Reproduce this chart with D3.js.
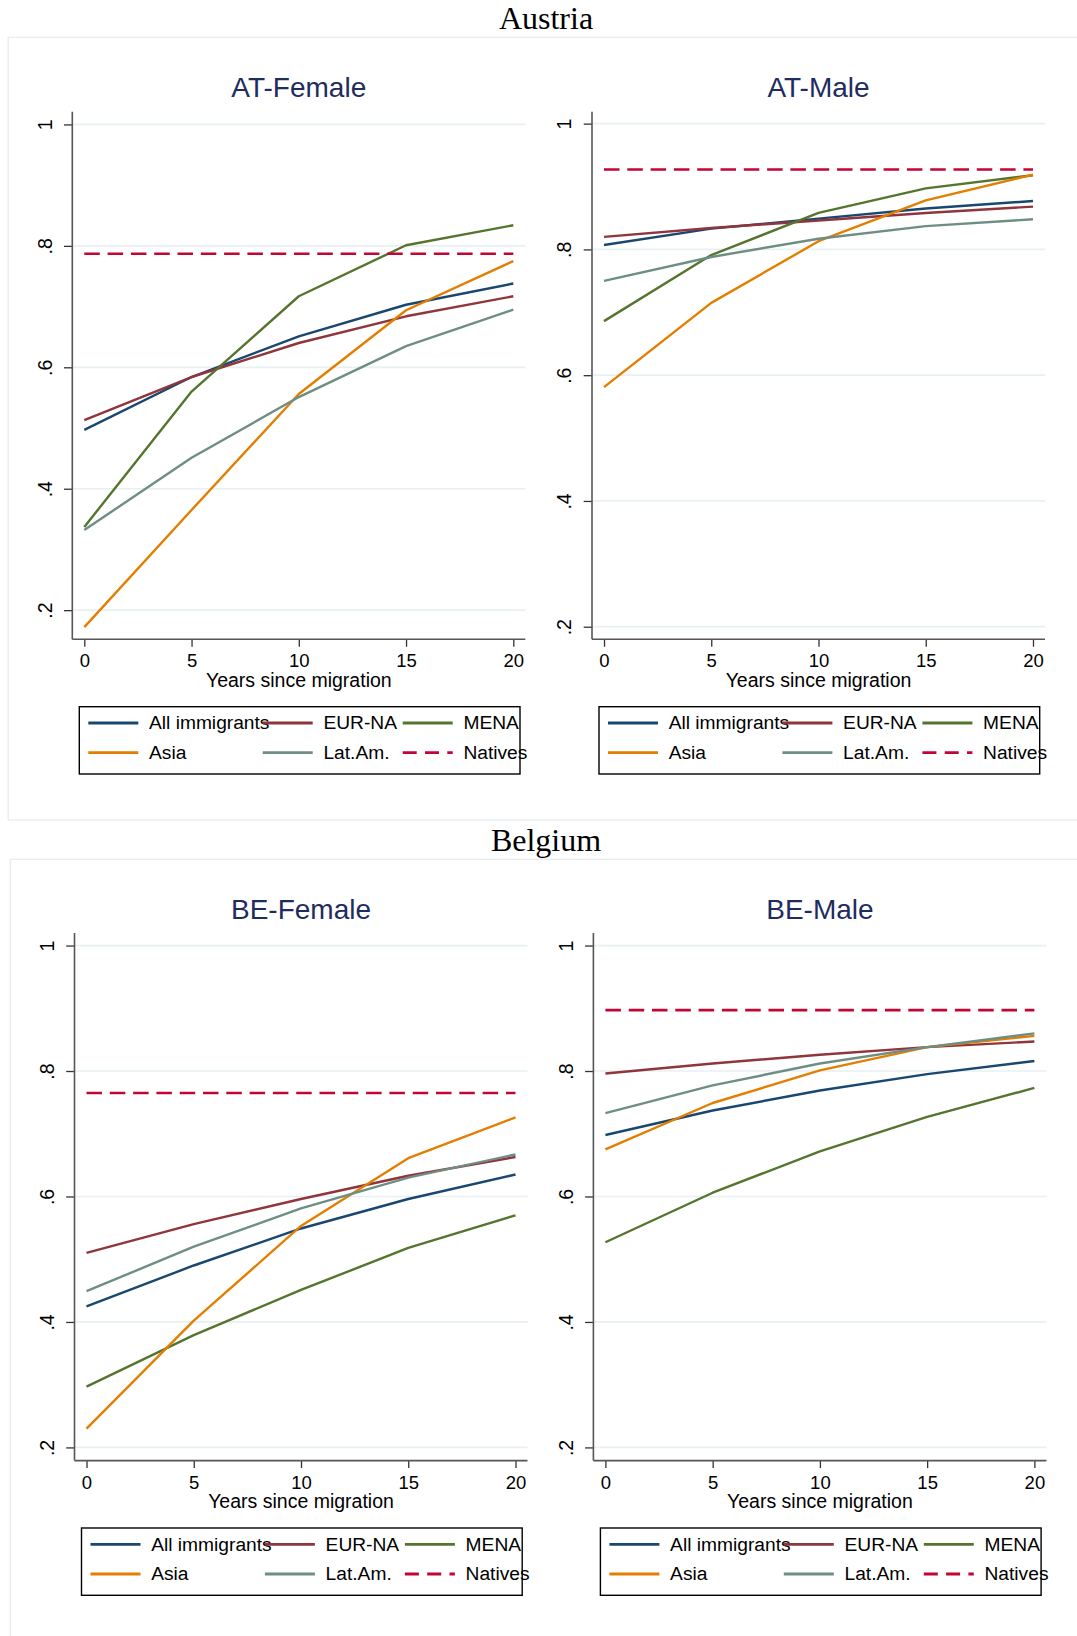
<!doctype html>
<html>
<head>
<meta charset="utf-8">
<title>Employment by years since migration</title>
<script src="https://d3js.org/d3.v7.min.js"></script>
<style>
body { margin: 0; background: white; }
svg { display: block; }
</style>
</head>
<body>
<div id="chart"></div>
<script>
// data (share employed by years since migration)
var years = [0, 5, 10, 15, 20];
var groups = ["All immigrants", "EUR-NA", "MENA", "Asia", "Lat.Am.", "Natives"];
var colors = ["#1a476f", "#90353b", "#55752f", "#e37e00", "#6e8e84", "#c10534"];

// rows: All immigrants, EUR-NA, MENA, Asia, Lat.Am.
var atFemale = [
  [0.497, 0.584, 0.651, 0.703, 0.738],
  [0.513, 0.584, 0.640, 0.684, 0.717],
  [0.337, 0.560, 0.717, 0.801, 0.834],
  [0.172, 0.365, 0.556, 0.694, 0.775],
  [0.332, 0.451, 0.551, 0.635, 0.695]
];
var atMale = [
  [0.807, 0.833, 0.849, 0.865, 0.877],
  [0.820, 0.834, 0.846, 0.858, 0.868],
  [0.686, 0.791, 0.858, 0.897, 0.918],
  [0.581, 0.715, 0.813, 0.878, 0.919],
  [0.750, 0.788, 0.817, 0.837, 0.848]
];
var beFemale = [
  [0.425, 0.490, 0.549, 0.596, 0.635],
  [0.510, 0.556, 0.596, 0.633, 0.663],
  [0.297, 0.379, 0.451, 0.518, 0.570],
  [0.230, 0.402, 0.553, 0.661, 0.726],
  [0.449, 0.520, 0.581, 0.630, 0.667]
];
var beMale = [
  [0.698, 0.737, 0.769, 0.795, 0.816],
  [0.796, 0.812, 0.826, 0.838, 0.847],
  [0.527, 0.606, 0.672, 0.727, 0.773],
  [0.675, 0.749, 0.801, 0.838, 0.856],
  [0.733, 0.777, 0.812, 0.838, 0.860]
];
var natives = [0.787, 0.927, 0.765, 0.897];

var panelTitles = ["AT-Female", "AT-Male", "BE-Female", "BE-Male"];
var countries = ["Austria", "Belgium"];
var yDomains = [[0.152, 1.021], [0.180, 1.019], [0.179, 1.020], [0.179, 1.020]];
var xDomain = [-0.56, 20.56];
var yTicks = [0.2, 0.4, 0.6, 0.8, 1];
var yTickLabels = [".2", ".4", ".6", ".8", "1"];
var xTicks = [0, 5, 10, 15, 20];

var panelData = [atFemale, atMale, beFemale, beMale];

var width = 1077, height = 1636;
var plotW = 453, plotH = 527.6;
// top-left of each plot region
var origins = [[72.3, 111.7], [592, 111.7], [74.5, 933], [593.4, 933]];

var svg = d3.select("#chart")
  .append("svg")
  .attr("width", width)
  .attr("height", height)
  .style("font-family", "'Liberation Sans', Arial, sans-serif");

svg.append("rect")
  .attr("width", width).attr("height", height)
  .attr("fill", "white");

// country frames and titles
var frames = [[8.2, 37.3, 820], [10.3, 859.3, 1700]];
frames.forEach(function(f, i) {
  svg.append("rect")
    .attr("x", f[0]).attr("y", f[1])
    .attr("width", width + 20 - f[0])
    .attr("height", f[2] - f[1])
    .attr("fill", "none")
    .attr("stroke", "#e4ecef")
    .attr("stroke-width", 1.2);
  svg.append("text")
    .attr("x", 546)
    .attr("y", f[1] - 8)
    .attr("text-anchor", "middle")
    .attr("font-family", "'Liberation Serif', 'Times New Roman', serif")
    .attr("font-size", "32px")
    .attr("fill", "black")
    .text(countries[i]);
});

function drawPanel(idx) {
  var data = panelData[idx];
  var g = svg.append("g")
    .attr("transform", "translate(" + origins[idx][0] + "," + origins[idx][1] + ")");

  var x = d3.scaleLinear().domain(xDomain).range([0, plotW]);
  var y = d3.scaleLinear().domain(yDomains[idx]).range([plotH, 0]);

  // subtitle
  g.append("text")
    .attr("x", plotW / 2)
    .attr("y", -14.4)
    .attr("text-anchor", "middle")
    .attr("font-size", "28px")
    .attr("fill", "#1f2c5e")
    .text(panelTitles[idx]);

  // gridlines
  g.selectAll("line.grid")
    .data(yTicks)
    .enter().append("line")
    .attr("class", "grid")
    .attr("x1", 0).attr("x2", plotW)
    .attr("y1", function(d) { return y(d); })
    .attr("y2", function(d) { return y(d); })
    .attr("stroke", "#e8f0f2")
    .attr("stroke-width", 1.7);

  // y axis
  var yAxis = d3.axisLeft(y)
    .tickValues(yTicks)
    .tickSize(8.3)
    .tickFormat(function(d, i) { return yTickLabels[i]; });
  var ya = g.append("g").call(yAxis);
  ya.select(".domain").remove();
  ya.selectAll(".tick line").attr("stroke", "#333").attr("stroke-width", 1.3);
  ya.selectAll(".tick text")
    .attr("x", null).attr("dy", null)
    .attr("transform", "translate(-20.6,0) rotate(-90)")
    .attr("text-anchor", "middle")
    .attr("font-size", "19.5px")
    .attr("font-family", "'Liberation Sans', Arial, sans-serif")
    .attr("fill", "black");
  g.append("line")
    .attr("x1", 0).attr("x2", 0)
    .attr("y1", 0).attr("y2", plotH)
    .attr("stroke", "#555")
    .attr("stroke-width", 1.6);

  // x axis
  var xAxis = d3.axisBottom(x)
    .tickValues(xTicks)
    .tickSize(7.5)
    .tickFormat(d3.format("d"));
  var xa = g.append("g")
    .attr("transform", "translate(0," + plotH + ")")
    .call(xAxis);
  xa.select(".domain").remove();
  xa.selectAll(".tick line").attr("stroke", "#333").attr("stroke-width", 1.3);
  xa.selectAll(".tick text")
    .attr("y", 28).attr("dy", null)
    .attr("font-size", "18.5px")
    .attr("font-family", "'Liberation Sans', Arial, sans-serif")
    .attr("fill", "black");
  g.append("line")
    .attr("x1", 0).attr("x2", plotW)
    .attr("y1", plotH).attr("y2", plotH)
    .attr("stroke", "#555")
    .attr("stroke-width", 1.6);

  g.append("text")
    .attr("x", plotW / 2)
    .attr("y", plotH + 47.4)
    .attr("text-anchor", "middle")
    .attr("font-size", "19.5px")
    .attr("fill", "black")
    .text("Years since migration");

  // series lines
  var line = d3.line()
    .x(function(d, i) { return x(years[i]); })
    .y(function(d) { return y(d); });

  data.forEach(function(series, s) {
    g.append("path")
      .datum(series)
      .attr("d", line)
      .attr("fill", "none")
      .attr("stroke", colors[s])
      .attr("stroke-width", 2.4)
      .attr("stroke-linejoin", "round");
  });

  // natives (flat dashed)
  var nat = years.map(function() { return natives[idx]; });
  g.append("path")
    .datum(nat)
    .attr("d", line)
    .attr("fill", "none")
    .attr("stroke", colors[5])
    .attr("stroke-width", 2.6)
    .attr("stroke-dasharray", "15.5 7.8");

  // legend
  var lg = g.append("g").attr("transform", "translate(7,595)");
  lg.append("rect")
    .attr("width", 440.7).attr("height", 67.3)
    .attr("fill", "white")
    .attr("stroke", "black")
    .attr("stroke-width", 1.4);
  var colX = [9, 183.4, 323.4];
  var rowY = [16.3, 46];
  groups.forEach(function(name, k) {
    var cx = colX[k % 3], cy = rowY[Math.floor(k / 3)];
    var ln = lg.append("line")
      .attr("x1", cx).attr("x2", cx + 50)
      .attr("y1", cy).attr("y2", cy)
      .attr("stroke", colors[k])
      .attr("stroke-width", 2.8);
    if (name === "Natives") ln.attr("stroke-dasharray", "14 8.3");
    lg.append("text")
      .attr("x", cx + 60.7)
      .attr("y", cy + 6.3)
      .attr("font-size", "19.2px")
      .attr("fill", "black")
      .text(name);
  });
}

for (var p = 0; p < 4; p++) drawPanel(p);
</script>
</body>
</html>
